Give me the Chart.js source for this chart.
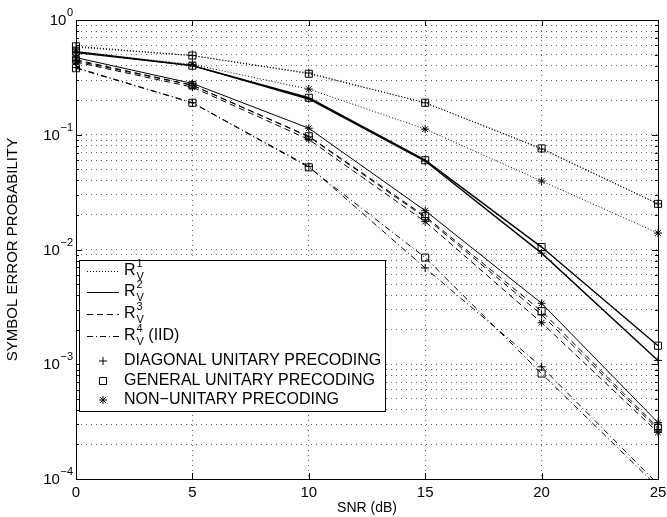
<!DOCTYPE html>
<html>
<head>
<meta charset="utf-8">
<script src="https://cdn.jsdelivr.net/npm/chart.js@4.4.1/dist/chart.umd.min.js"></script>
<style>
  html, body { margin: 0; padding: 0; background: #fff; }
  #wrap { width: 667px; height: 517px; }
</style>
</head>
<body>
<div id="wrap"><canvas id="ser" width="667" height="517"></canvas></div>
<script>
// SNR points (dB)
const snr = [0, 5, 10, 15, 20, 25];

// symbol error probability
const r1Diag = [0.58, 0.49, 0.345, 0.19, 0.075, 0.025];
const r1Gen  = [0.59, 0.49, 0.34, 0.19, 0.076, 0.025];
const r1Non  = [0.53, 0.41, 0.25, 0.112, 0.0395, 0.0139];
const r2Diag = [0.52, 0.40, 0.205, 0.059, 0.0093, 0.00108];
const r2Gen  = [0.53, 0.40, 0.21, 0.06, 0.0105, 0.00145];
const r2Non  = [0.47, 0.28, 0.114, 0.0218, 0.0034, 0.00031];
const r3Diag = [0.44, 0.27, 0.096, 0.019, 0.0027, 0.00027];
const r3Gen  = [0.45, 0.27, 0.097, 0.0195, 0.0029, 0.00028];
const r3Non  = [0.43, 0.26, 0.091, 0.0175, 0.0023, 0.000255];
const r4Diag = [0.385, 0.19, 0.053, 0.0069, 0.00095, 0.00009];
const r4Gen  = [0.38, 0.19, 0.052, 0.0085, 0.00083, 0.000085];

const xTickLabels = ["0", "5", "10", "15", "20", "25"];
const yTickExp = [0, -1, -2, -3, -4];

const FONT = '"Liberation Sans", Arial, Helvetica, sans-serif';
const DOT = [1, 2];
const DASH = [6, 4];
const DASHDOT = [6, 3, 1, 3];

function series(label, values, dash, marker, radius, width) {
  return {
    label: label,
    data: snr.map((x, i) => ({ x: x, y: values[i] })),
    borderColor: "#000",
    borderWidth: width || 1,
    borderDash: dash,
    pointStyle: marker,
    pointRadius: radius,
    pointBorderColor: "#000",
    pointBackgroundColor: "rgba(0,0,0,0)",
    pointBorderWidth: 1,
    tension: 0,
    fill: false,
    clip: { left: 10, right: 10, top: 10, bottom: 0 },
  };
}

const datasets = [
  series("R1 diag", r1Diag, DOT, "cross", 4),
  series("R1 gen", r1Gen, DOT, "rect", 5),
  series("R1 non", r1Non, DOT, "star", 4),
  series("R2 diag", r2Diag, [], "cross", 4, 1.4),
  series("R2 gen", r2Gen, [], "rect", 5, 1.4),
  series("R2 non", r2Non, [], "star", 4),
  series("R3 diag", r3Diag, DASH, "cross", 4),
  series("R3 gen", r3Gen, DASH, "rect", 5),
  series("R3 non", r3Non, DASH, "star", 4),
  series("R4 diag", r4Diag, DASHDOT, "cross", 4),
  series("R4 gen", r4Gen, DASHDOT, "rect", 5),
];

// y ticks at every 1..9 x 10^e so grid matches the log paper
function logTicks() {
  const t = [];
  for (let e = -4; e <= 0; e++) {
    for (let m = 1; m <= 9; m++) {
      const v = m * Math.pow(10, e);
      if (v <= 1.0000001) t.push({ value: v });
    }
  }
  return t;
}

const matlabFrame = {
  id: "matlabFrame",
  afterDatasetsDraw(chart) {
    const ctx = chart.ctx;
    const a = chart.chartArea;
    const xs = chart.scales.x;
    const ys = chart.scales.y;
    ctx.save();
    ctx.strokeStyle = "#000";
    ctx.lineWidth = 1;
    ctx.setLineDash([]);

    // box
    ctx.strokeRect(a.left + 0.5, a.top + 0.5, a.right - a.left, a.bottom - a.top);

    // inward ticks
    ctx.beginPath();
    snr.forEach((v) => {
      const px = Math.round(xs.getPixelForValue(v)) + 0.5;
      ctx.moveTo(px, a.bottom); ctx.lineTo(px, a.bottom - 6);
      ctx.moveTo(px, a.top); ctx.lineTo(px, a.top + 6);
    });
    logTicks().forEach((t) => {
      const py = Math.round(ys.getPixelForValue(t.value)) + 0.5;
      const major = Math.abs(Math.log10(t.value) - Math.round(Math.log10(t.value))) < 1e-6;
      const len = major ? 6 : 3;
      ctx.moveTo(a.left, py); ctx.lineTo(a.left + len, py);
      ctx.moveTo(a.right, py); ctx.lineTo(a.right - len, py);
    });
    ctx.stroke();

    // tick labels
    ctx.fillStyle = "#000";
    ctx.font = "15px " + FONT;
    ctx.textAlign = "center";
    ctx.textBaseline = "middle";
    snr.forEach((v, i) => {
      ctx.fillText(xTickLabels[i], xs.getPixelForValue(v), a.bottom + 14);
    });
    yTickExp.forEach((e) => {
      const py = ys.getPixelForValue(Math.pow(10, e));
      const ex = e === 0 ? "0" : "\u2212" + Math.abs(e);
      ctx.font = "11px " + FONT;
      const ew = ctx.measureText(ex).width;
      ctx.textAlign = "left";
      ctx.fillText(ex, 73 - ew, py - 7);
      ctx.font = "15px " + FONT;
      ctx.textAlign = "right";
      ctx.fillText("10", 73 - ew - 0.5, py + 1);
    });

    // axis titles
    ctx.font = "14px " + FONT;
    ctx.textAlign = "center";
    ctx.fillText("SNR (dB)", (a.left + a.right) / 2, 508);
    ctx.font = "15px " + FONT;
    ctx.save();
    ctx.translate(13, (a.top + a.bottom) / 2);
    ctx.rotate(-Math.PI / 2);
    ctx.fillText("SYMBOL ERROR PROBABILITY", 0, 0);
    ctx.restore();

    // legend
    const bx = 79, by = 260, bw = 306, bh = 151;
    ctx.fillStyle = "#fff";
    ctx.fillRect(bx, by, bw, bh);
    ctx.strokeRect(bx + 0.5, by + 0.5, bw, bh);
    ctx.fillStyle = "#000";

    const rows = [
      { dash: DOT, n: "1", extra: "" },
      { dash: [], n: "2", extra: "" },
      { dash: DASH, n: "3", extra: "" },
      { dash: DASHDOT, n: "4", extra: " (IID)" },
    ];
    const rowY = [271, 292, 314, 336];
    rows.forEach((r, i) => {
      const y = rowY[i];
      ctx.setLineDash(r.dash);
      ctx.beginPath();
      ctx.moveTo(87, y + 0.5);
      ctx.lineTo(119, y + 0.5);
      ctx.stroke();
      ctx.setLineDash([]);
      ctx.font = "16px " + FONT;
      ctx.textAlign = "left";
      ctx.fillText("R", 124, y);
      const rw = ctx.measureText("R").width;
      ctx.font = "11px " + FONT;
      ctx.fillText(r.n, 124 + rw + 1, y - 7);
      ctx.fillText("V", 124 + rw + 1, y + 6);
      const sw = ctx.measureText("V").width;
      if (r.extra) {
        ctx.font = "16px " + FONT;
        ctx.fillText(r.extra, 124 + rw + 1 + sw, y);
      }
    });

    const marks = [
      { style: "cross", r: 4, text: "DIAGONAL UNITARY PRECODING", y: 361 },
      { style: "rect", r: 5, text: "GENERAL UNITARY PRECODING", y: 381 },
      { style: "star", r: 4, text: "NON\u2212UNITARY PRECODING", y: 400 },
    ];
    marks.forEach((m) => {
      ctx.fillStyle = "rgba(0,0,0,0)";
      Chart.helpers.drawPoint(ctx, { pointStyle: m.style, radius: m.r, rotation: 0, borderWidth: 1 }, 103, m.y);
      ctx.fillStyle = "#000";
      ctx.font = "16px " + FONT;
      ctx.textAlign = "left";
      ctx.fillText(m.text, 124, m.y);
    });
    ctx.restore();
  },
};

new Chart(document.getElementById("ser"), {
  type: "line",
  data: { datasets: datasets },
  plugins: [matlabFrame],
  options: {
    responsive: false,
    animation: false,
    devicePixelRatio: 1,
    layout: { padding: { left: 76, right: 9, top: 20, bottom: 38 } },
    plugins: { legend: { display: false }, tooltip: { enabled: false } },
    scales: {
      x: {
        type: "linear",
        min: 0,
        max: 25,
        afterBuildTicks: (s) => { s.ticks = snr.map((v) => ({ value: v })); },
        afterFit: (s) => { s.height = 0; },
        ticks: { display: false },
        grid: { color: "#666", lineWidth: 1, drawTicks: false },
        border: { display: false, dash: [1, 4] },
      },
      y: {
        type: "logarithmic",
        min: 0.0001,
        max: 1,
        afterBuildTicks: (s) => { s.ticks = logTicks(); },
        afterFit: (s) => { s.width = 0; },
        ticks: { display: false },
        grid: { color: "#666", lineWidth: 1, drawTicks: false },
        border: { display: false, dash: [1, 4] },
      },
    },
  },
});
</script>
</body>
</html>
